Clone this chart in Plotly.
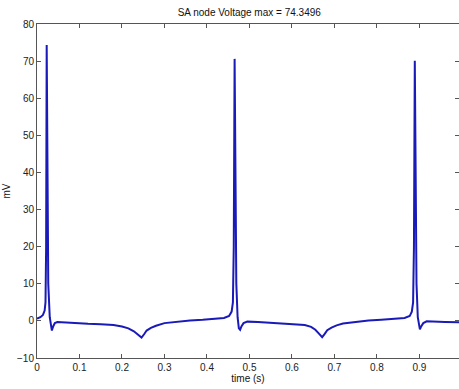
import plotly.graph_objects as go

time_s = [
    0.000, 0.008, 0.014, 0.018, 0.020, 0.0215, 0.0228, 0.0240, 0.0265, 0.030,
    0.033, 0.035, 0.038, 0.042, 0.048, 0.060, 0.090, 0.120, 0.150, 0.180,
    0.200, 0.215, 0.228, 0.238, 0.246, 0.252, 0.258, 0.268, 0.280, 0.300,
    0.330, 0.360, 0.390, 0.420, 0.440, 0.452, 0.458, 0.461, 0.463, 0.465,
    0.4665, 0.469, 0.472, 0.475, 0.478, 0.481, 0.486, 0.495, 0.520, 0.550,
    0.580, 0.610, 0.630, 0.645, 0.655, 0.664, 0.671, 0.677, 0.683, 0.693,
    0.705, 0.720, 0.750, 0.780, 0.810, 0.840, 0.865, 0.877, 0.882, 0.885,
    0.887, 0.889, 0.8905, 0.893, 0.896, 0.899, 0.901, 0.904, 0.909, 0.917,
    0.930, 0.960, 0.993,
]
voltage_mv = [
    0.6, 1.0, 1.6, 2.8, 5.0, 20.0, 74.3496, 40.0, 10.0, 1.0,
    -2.0, -2.6, -1.5, -0.6, -0.3, -0.4, -0.6, -0.8, -0.9, -1.1,
    -1.5, -2.0, -2.8, -3.8, -4.5, -3.6, -2.6, -1.9, -1.3, -0.6,
    -0.2, 0.1, 0.3, 0.5, 0.8, 1.3, 2.5, 5.0, 20.0, 70.6,
    40.0, 10.0, 1.0, -2.0, -2.4, -1.5, -0.6, -0.2, -0.3, -0.5,
    -0.6, -0.8, -1.1, -1.6, -2.4, -3.5, -4.4, -3.5, -2.5, -1.8,
    -1.2, -0.7, -0.2, 0.1, 0.3, 0.5, 0.8, 1.3, 2.5, 5.0,
    20.0, 70.1, 40.0, 10.0, 1.0, -2.0, -2.3, -1.5, -0.6, -0.1,
    -0.2, -0.3, -0.4,
]

x_ticks = [0, 0.1, 0.2, 0.3, 0.4, 0.5, 0.6, 0.7, 0.8, 0.9]
x_tick_labels = ["0", "0.1", "0.2", "0.3", "0.4", "0.5", "0.6", "0.7", "0.8", "0.9"]
y_ticks = [-10, 0, 10, 20, 30, 40, 50, 60, 70, 80]

fig = go.Figure()
fig.add_trace(go.Scatter(
    x=time_s, y=voltage_mv, mode="lines",
    line=dict(color="#1a1ab8", width=2),
    showlegend=False,
))

axis_common = dict(
    showgrid=False, zeroline=False, showline=True, linecolor="#555555", linewidth=1,
    mirror="ticks", ticks="inside", ticklen=4, tickcolor="#555555",
    tickfont=dict(family="Liberation Sans, Arial, sans-serif", size=10, color="#222222"),
)

fig.update_layout(
    width=459, height=389,
    margin=dict(l=37, r=0, t=24, b=31),
    paper_bgcolor="white", plot_bgcolor="white",
    title=dict(text="SA node Voltage max = 74.3496", x=0.543, xanchor="center",
               y=1 - 12 / 389, yanchor="middle",
               font=dict(family="Liberation Sans, Arial, sans-serif", size=10, color="#111111")),
    xaxis=dict(range=[0, 0.993], tickvals=x_ticks, ticktext=x_tick_labels,
               title=dict(text="time (s)", standoff=2,
                          font=dict(family="Liberation Sans, Arial, sans-serif", size=10, color="#111111")),
               **axis_common),
    yaxis=dict(range=[-10, 80], tickvals=y_ticks,
               title=dict(text="mV", standoff=4,
                          font=dict(family="Liberation Sans, Arial, sans-serif", size=10, color="#111111")),
               **axis_common),
)

fig.write_html("out.html")
